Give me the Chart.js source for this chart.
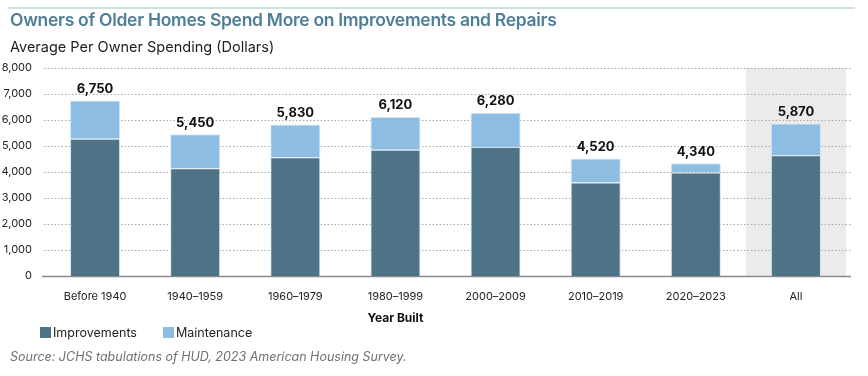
<!DOCTYPE html>
<html>
<head>
<meta charset="utf-8">
<script src="https://cdn.jsdelivr.net/npm/chart.js@4.4.1/dist/chart.umd.min.js"></script>
<style>
  body { margin: 0; background: #fff; font-family: "Inter", "Open Sans", sans-serif; }
  #wrap { position: relative; width: 868px; height: 376px; overflow: hidden; }
  #topline { position: absolute; left: 8px; top: 7px; width: 847px; height: 2px; background: #cfe2e3; }
  #title { position: absolute; left: 10px; top: 9px; font-size: 17.5px; font-weight: 600; color: #4f7e97; letter-spacing: -0.3px; }
  #subtitle { position: absolute; left: 10px; top: 38px; font-size: 14.5px; color: #1e1e1e; }
  #legend { position: absolute; left: 40px; top: 325px; font-size: 12.5px; color: #222; }
  #legend span { position: absolute; white-space: nowrap; }
  #legend i { position: absolute; width: 11px; height: 11px; top: 2px; }
  #source { position: absolute; left: 10px; top: 349px; font-size: 12.5px; font-style: italic; color: #707070; white-space: nowrap; }
  canvas { position: absolute; left: 0; top: 0; }
</style>
</head>
<body>
<div id="wrap">
  <canvas id="spendChart" width="868" height="376"></canvas>
  <div id="topline"></div>
  <div id="title">Owners of Older Homes Spend More on Improvements and Repairs</div>
  <div id="subtitle">Average Per Owner Spending (Dollars)</div>
  <div id="legend">
    <i style="left:0;background:#4f7386"></i><span style="left:13px">Improvements</span>
    <i style="left:123px;background:#8dbde2"></i><span style="left:136px">Maintenance</span>
  </div>
  <div id="source">Source: JCHS tabulations of HUD, 2023 American Housing Survey.</div>
</div>
<script>
const categories = ["Before 1940", "1940–1959", "1960–1979", "1980–1999", "2000–2009", "2010–2019", "2020–2023", "All"];
const improvements = [5280, 4140, 4570, 4860, 4960, 3600, 3980, 4640];
const totals = [6750, 5450, 5830, 6120, 6280, 4520, 4340, 5870];
const maintenance = totals.map((t, i) => t - improvements[i]);
const yTicks = [0, 1000, 2000, 3000, 4000, 5000, 6000, 7000, 8000];

// grey band behind the "All" bar
const allBand = {
  id: "allBand",
  beforeDraw(chart) {
    const { ctx, chartArea, scales } = chart;
    const x = scales.x.getPixelForValue(categories.length - 1);
    const half = (scales.x.getPixelForValue(1) - scales.x.getPixelForValue(0)) / 2;
    ctx.save();
    ctx.fillStyle = "#ebebeb";
    ctx.fillRect(x - half, chartArea.top, half * 2, chartArea.bottom - chartArea.top);
    ctx.restore();
  },
};

// dotted gridlines running a bit past the plot, solid base line
const dottedGrid = {
  id: "dottedGrid",
  beforeDatasetsDraw(chart) {
    const { ctx, chartArea, scales } = chart;
    ctx.save();
    yTicks.forEach((v) => {
      const y = Math.round(scales.y.getPixelForValue(v)) + 0.5;
      ctx.beginPath();
      if (v === 0) {
        ctx.setLineDash([]);
        ctx.strokeStyle = "#8a8a8a";
        ctx.lineWidth = 1.5;
        ctx.moveTo(chartArea.left - 3, y);
      } else {
        ctx.setLineDash([1.5, 2]);
        ctx.strokeStyle = "#a9a9a9";
        ctx.lineWidth = 1;
        ctx.moveTo(chartArea.left - 1, y);
      }
      ctx.lineTo(chartArea.right + 5, y);
      ctx.stroke();
    });
    ctx.restore();
  },
};

// totals above bars + "Year Built" label
const totalLabels = {
  id: "totalLabels",
  afterDatasetsDraw(chart) {
    const { ctx, scales } = chart;
    ctx.save();
    ctx.fillStyle = "#111";
    ctx.font = "bold 13px Inter, sans-serif";
    ctx.textAlign = "center";
    ctx.textBaseline = "bottom";
    totals.forEach((t, i) => {
      ctx.fillText(t.toLocaleString("en-US"), scales.x.getPixelForValue(i), scales.y.getPixelForValue(t) - 5);
    });
    const half = (scales.x.getPixelForValue(1) - scales.x.getPixelForValue(0)) / 2;
    const left = scales.x.getPixelForValue(0) - half;
    const right = scales.x.getPixelForValue(categories.length - 2) + half;
    ctx.font = "bold 12px Inter, sans-serif";
    ctx.textBaseline = "middle";
    ctx.fillText("Year Built", (left + right) / 2, 318);
    ctx.restore();
  },
};

const ctx = document.getElementById("spendChart").getContext("2d");
new Chart(ctx, {
  type: "bar",
  data: {
    labels: categories,
    datasets: [
      {
        label: "Improvements",
        data: improvements,
        backgroundColor: "#4f7386",
        borderColor: "#d3e5f2",
        borderWidth: 1,
        barPercentage: 0.5,
        categoryPercentage: 1,
      },
      {
        label: "Maintenance",
        data: maintenance,
        backgroundColor: "#8dbde2",
        borderColor: "#d3e5f2",
        borderWidth: 1,
        barPercentage: 0.5,
        categoryPercentage: 1,
      },
    ],
  },
  options: {
    responsive: false,
    animation: false,
    layout: { padding: { top: 68, right: 22, left: 0, bottom: 0 } },
    plugins: { legend: { display: false }, tooltip: { enabled: false } },
    scales: {
      x: {
        stacked: true,
        grid: { display: false },
        border: { display: false },
        ticks: { color: "#222", font: { size: 11, family: "Inter" }, padding: 6 },
        afterFit(scale) { scale.height = 100; },
      },
      y: {
        stacked: true,
        min: 0,
        max: 8000,
        afterBuildTicks(scale) { scale.ticks = yTicks.map((v) => ({ value: v })); },
        afterFit(scale) { scale.width = 45; },
        grid: { display: false },
        border: { display: false },
        ticks: {
          color: "#222",
          font: { size: 11, family: "Inter" },
          padding: 5,
          callback: (v) => v.toLocaleString("en-US"),
        },
      },
    },
  },
  plugins: [allBand, dottedGrid, totalLabels],
});
</script>
</body>
</html>
